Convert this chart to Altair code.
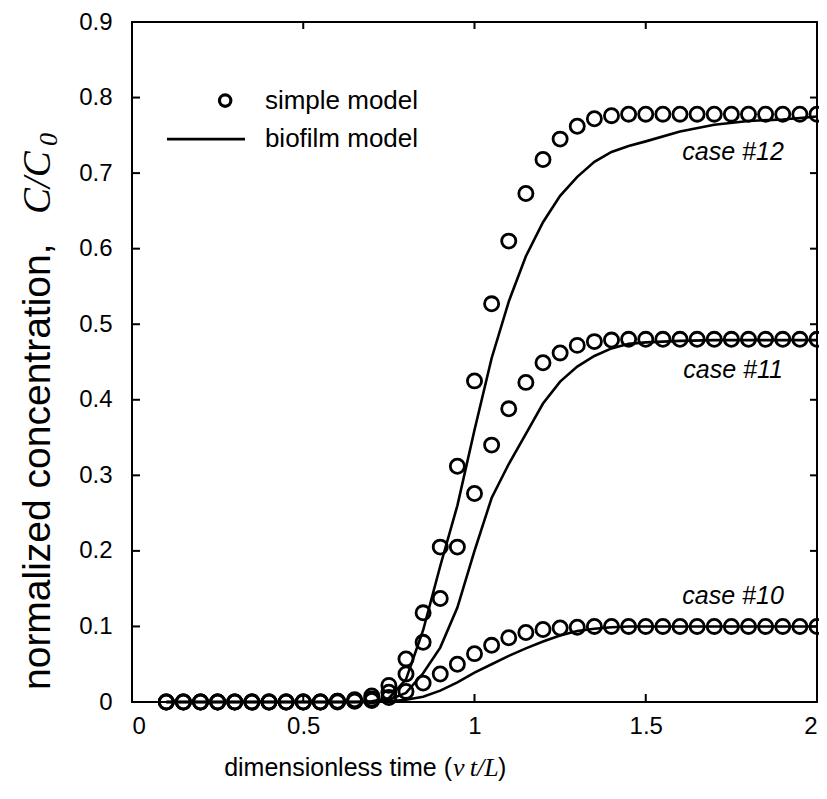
import altair as alt
import pandas as pd

# ---- data ----
x_pts = [0.10, 0.15, 0.20, 0.25, 0.30, 0.35, 0.40, 0.45, 0.50, 0.55, 0.60, 0.65,
         0.70, 0.75, 0.80, 0.85, 0.90, 0.95, 1.00, 1.05, 1.10, 1.15, 1.20, 1.25,
         1.30, 1.35, 1.40, 1.45, 1.50, 1.55, 1.60, 1.65, 1.70, 1.75, 1.80, 1.85,
         1.90, 1.95, 2.00]

simple_10 = [0, 0, 0, 0, 0, 0, 0, 0, 0, 0, 0, 0.001,
             0.002, 0.006, 0.014, 0.025, 0.037, 0.050, 0.064, 0.075, 0.085, 0.092, 0.096, 0.098,
             0.099, 0.100, 0.100, 0.100, 0.100, 0.100, 0.100, 0.100, 0.100, 0.100, 0.100, 0.100,
             0.100, 0.100, 0.100]
simple_11 = [0, 0, 0, 0, 0, 0, 0, 0, 0, 0, 0.001, 0.002,
             0.004, 0.013, 0.037, 0.079, 0.137, 0.205, 0.276, 0.340, 0.388, 0.423, 0.449, 0.462,
             0.472, 0.477, 0.479, 0.480, 0.480, 0.480, 0.480, 0.480, 0.480, 0.480, 0.480, 0.480,
             0.480, 0.480, 0.480]
simple_12 = [0, 0, 0, 0, 0, 0, 0, 0, 0, 0, 0.001, 0.003,
             0.008, 0.022, 0.057, 0.118, 0.205, 0.312, 0.425, 0.527, 0.610, 0.673, 0.718, 0.745,
             0.762, 0.772, 0.776, 0.778, 0.778, 0.778, 0.778, 0.778, 0.778, 0.778, 0.778, 0.778,
             0.778, 0.778, 0.778]

x_line = [0.10, 0.65, 0.70, 0.75, 0.80, 0.85, 0.90, 0.95, 1.00, 1.05, 1.10, 1.15,
          1.20, 1.25, 1.30, 1.35, 1.40, 1.45, 1.50, 1.60, 1.70, 1.80, 1.90, 2.00]
bio_10 = [0, 0, 0.000, 0.001, 0.003, 0.007, 0.015, 0.026, 0.039, 0.050, 0.061, 0.071,
          0.080, 0.088, 0.094, 0.097, 0.099, 0.100, 0.100, 0.100, 0.100, 0.100, 0.100, 0.100]
bio_11 = [0, 0, 0.000, 0.003, 0.012, 0.038, 0.072, 0.125, 0.200, 0.270, 0.315, 0.355,
          0.395, 0.424, 0.444, 0.458, 0.468, 0.474, 0.476, 0.478, 0.479, 0.479, 0.479, 0.479]
bio_12 = [0, 0, 0.001, 0.005, 0.030, 0.095, 0.180, 0.260, 0.360, 0.455, 0.530, 0.590,
          0.635, 0.670, 0.695, 0.715, 0.728, 0.736, 0.742, 0.755, 0.764, 0.769, 0.771, 0.775]

x_ticks = [0, 0.5, 1, 1.5, 2]
y_ticks = [0, 0.1, 0.2, 0.3, 0.4, 0.5, 0.6, 0.7, 0.8, 0.9]

case_labels = ["case #10", "case #11", "case #12"]
case_x = [1.755, 1.755, 1.755]
case_y = [0.140, 0.440, 0.728]

legend_labels = ["simple model", "biofilm model"]
legend_text_x = [0.388, 0.388]
legend_text_y = [0.796, 0.745]
legend_pt_x = [0.272]
legend_pt_y = [0.796]
legend_line_x = [0.102, 0.330]
legend_line_y = [0.745, 0.745]

# ---- build tables ----
pts = pd.DataFrame(
    [{"x": x, "y": v, "case": name}
     for name, ser in (("10", simple_10), ("11", simple_11), ("12", simple_12))
     for x, v in zip(x_pts, ser)]
)
lines = pd.DataFrame(
    [{"x": x, "y": v, "case": name}
     for name, ser in (("10", bio_10), ("11", bio_11), ("12", bio_12))
     for x, v in zip(x_line, ser)]
)

W, H = 685, 680
SANS = "Liberation Sans"
SERIF = "Liberation Serif"
FS = 26

xscale = alt.Scale(domain=[0, 2], nice=False, zero=False)
yscale = alt.Scale(domain=[0, 0.9], nice=False, zero=False)

xaxis = alt.Axis(values=x_ticks, format="~g", labelFont=SANS, labelFontSize=24,
                 labelColor="black", labelPadding=12, ticks=False, domain=False,
                 grid=False, title="")
yaxis = alt.Axis(values=y_ticks, format="~g", labelFont=SANS, labelFontSize=24,
                 labelColor="black", labelPadding=20, ticks=False, domain=False,
                 grid=False, title="")


def X(f):
    return alt.X(f, scale=xscale, axis=xaxis)


def Y(f):
    return alt.Y(f, scale=yscale, axis=yaxis)


bio = alt.Chart(lines).mark_line(color="black", strokeWidth=2.6).encode(
    x=X("x:Q"), y=Y("y:Q"), detail="case:N",
)

simple = alt.Chart(pts).mark_point(shape="circle", filled=False, size=200,
                                   strokeWidth=2.8, color="black", opacity=1).encode(
    x=X("x:Q"), y=Y("y:Q"),
)

# inward ticks on all four sides
xt = pd.DataFrame({"v": x_ticks[1:-1]})
yt = pd.DataFrame({"v": y_ticks[1:-1]})
tick_b = alt.Chart(xt).mark_rule(color="black", strokeWidth=2).encode(
    x=X("v:Q"), y=alt.value(H), y2=alt.value(H - 8))
tick_t = alt.Chart(xt).mark_rule(color="black", strokeWidth=2).encode(
    x=X("v:Q"), y=alt.value(0), y2=alt.value(7))
tick_l = alt.Chart(yt).mark_rule(color="black", strokeWidth=2).encode(
    y=Y("v:Q"), x=alt.value(0), x2=alt.value(8))
tick_r = alt.Chart(yt).mark_rule(color="black", strokeWidth=2).encode(
    y=Y("v:Q"), x=alt.value(W), x2=alt.value(W - 7))

# case labels
cases = alt.Chart(pd.DataFrame({"x": case_x, "y": case_y, "t": case_labels})).mark_text(
    font=SANS, fontSize=25, fontStyle="italic", color="black", align="center",
    baseline="middle").encode(x=X("x:Q"), y=Y("y:Q"), text="t:N")

# legend
leg_text = alt.Chart(pd.DataFrame({"x": legend_text_x, "y": legend_text_y, "t": legend_labels})).mark_text(
    font=SANS, fontSize=FS, color="black", align="left", baseline="middle").encode(
    x=X("x:Q"), y=Y("y:Q"), text="t:N")
leg_pt = alt.Chart(pd.DataFrame({"x": legend_pt_x, "y": legend_pt_y})).mark_point(
    shape="circle", filled=False, size=130, strokeWidth=3.2, color="black", opacity=1).encode(
    x=X("x:Q"), y=Y("y:Q"))
leg_line = alt.Chart(pd.DataFrame({"x": legend_line_x, "y": legend_line_y})).mark_line(
    color="black", strokeWidth=2.6).encode(x=X("x:Q"), y=Y("y:Q"))


# axis titles (mixed fonts)
def txt(s, x, y, font, style="normal", align="left", angle=0, size=26):
    return alt.Chart(pd.DataFrame({"t": [s]})).mark_text(
        font=font, fontSize=size, fontStyle=style, color="black", align=align,
        baseline="alphabetic", angle=angle).encode(
        x=alt.value(x), y=alt.value(y), text="t:N")


xt1 = txt("dimensionless time (", 320, 754, SANS, align="right", size=25)
xt2 = txt("v\u2009t/L", 321, 754, SERIF, style="italic", size=26)
xt3 = txt(")", 366, 754, SANS, size=25)

YS = 39
yt1 = txt("normalized concentration, ", -82, 668, SANS, angle=270, size=YS)
yt2 = txt("C/C", -82, 192, SERIF, style="italic", angle=270, size=YS)
yt3 = txt("0", -75, 124, SERIF, style="italic", angle=270, size=26)

chart = alt.layer(
    bio, simple, tick_b, tick_t, tick_l, tick_r, cases, leg_text, leg_pt, leg_line,
    xt1, xt2, xt3, yt1, yt2, yt3,
).properties(
    width=W, height=H,
    padding={"left": 124, "top": 14, "right": 2, "bottom": 89},
    autosize=alt.AutoSizeParams(type="none"),
    background="white",
).configure_view(stroke="black", strokeWidth=2)

chart.save("out.html", embed_options={"renderer": "svg", "actions": False})
